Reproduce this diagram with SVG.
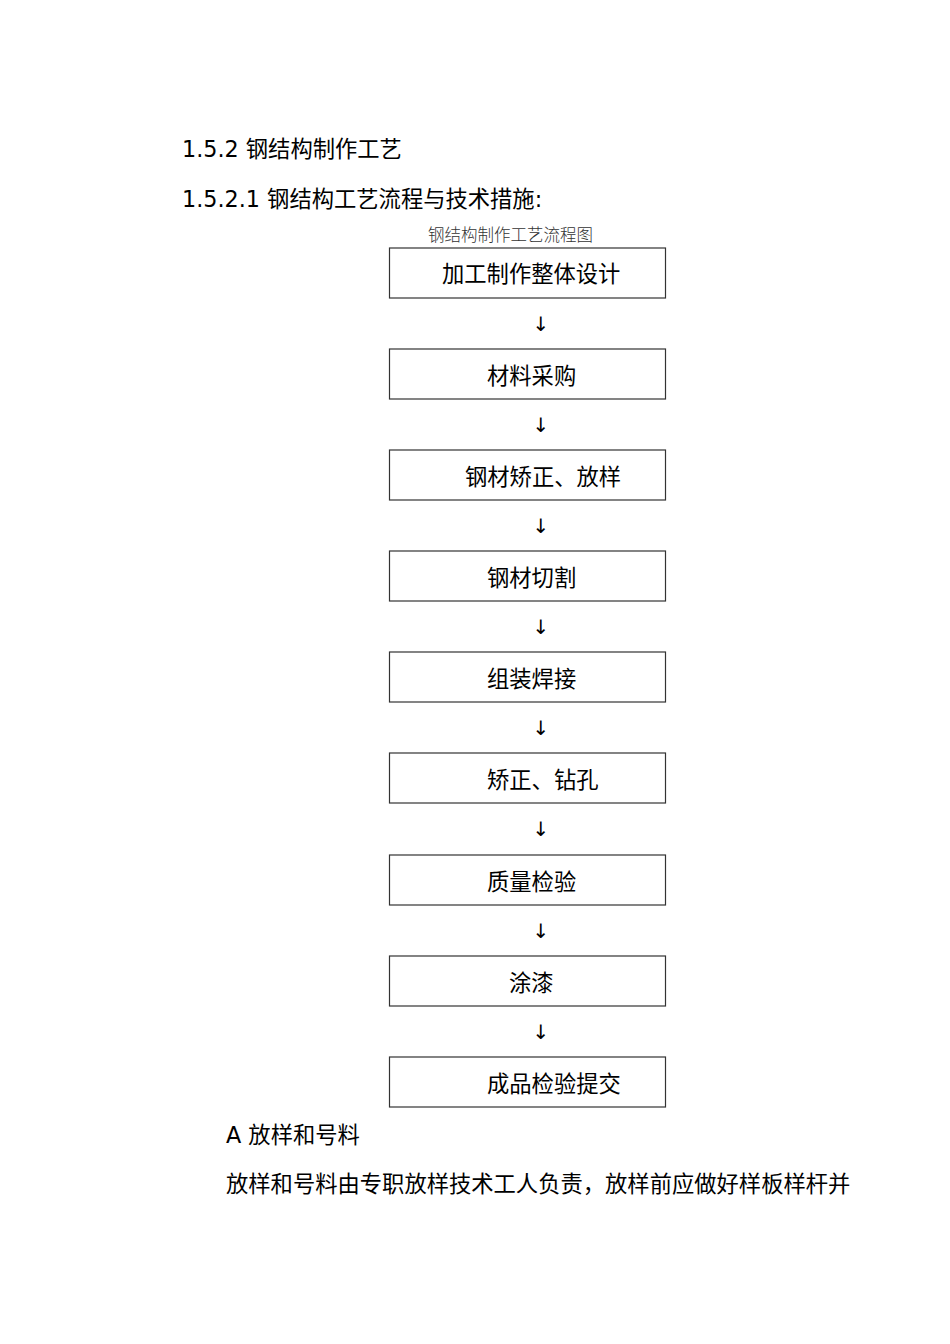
<svg xmlns="http://www.w3.org/2000/svg" width="950" height="1344" viewBox="0 0 950 1344">
<style>
.t{font-family:"DejaVu Sans","Noto Sans CJK SC",sans-serif;font-size:22.3px;fill:#000}
.cap{font-family:"Noto Sans CJK SC",sans-serif;font-size:16.5px;fill:#333;font-weight:300}
.box{fill:#fff;stroke:#333;stroke-width:1.2}
.arr{font-family:"DejaVu Sans",sans-serif;font-size:20px;fill:#000;text-anchor:middle}
</style>
<rect width="950" height="1344" fill="#fff"/>
<text class="t" x="182" y="157">1.5.2 钢结构制作工艺</text>
<text class="t" x="182" y="207">1.5.2.1 钢结构工艺流程与技术措施:</text>
<text class="cap" x="428" y="241">钢结构制作工艺流程图</text>
<g id="n1"><rect class="box" x="389.5" y="248" width="276" height="50"/><text class="t" x="442" y="282">加工制作整体设计</text></g>
<g id="n2"><rect class="box" x="389.5" y="349" width="276" height="50"/><text class="t" x="487" y="384">材料采购</text></g>
<g id="n3"><rect class="box" x="389.5" y="450" width="276" height="50"/><text class="t" x="465" y="485">钢材矫正、放样</text></g>
<g id="n4"><rect class="box" x="389.5" y="551" width="276" height="50"/><text class="t" x="487" y="586">钢材切割</text></g>
<g id="n5"><rect class="box" x="389.5" y="652" width="276" height="50"/><text class="t" x="487" y="687">组装焊接</text></g>
<g id="n6"><rect class="box" x="389.5" y="753" width="276" height="50"/><text class="t" x="487" y="788">矫正、钻孔</text></g>
<g id="n7"><rect class="box" x="389.5" y="855" width="276" height="50"/><text class="t" x="487" y="890">质量检验</text></g>
<g id="n8"><rect class="box" x="389.5" y="956" width="276" height="50"/><text class="t" x="509" y="991">涂漆</text></g>
<g id="n9"><rect class="box" x="389.5" y="1057" width="276" height="50"/><text class="t" x="487" y="1092">成品检验提交</text></g>
<g id="connectors">
<text class="arr" x="541" y="331">↓</text>
<text class="arr" x="541" y="432">↓</text>
<text class="arr" x="541" y="533">↓</text>
<text class="arr" x="541" y="634">↓</text>
<text class="arr" x="541" y="735">↓</text>
<text class="arr" x="541" y="836">↓</text>
<text class="arr" x="541" y="938">↓</text>
<text class="arr" x="541" y="1039">↓</text>
</g>
<text class="t" x="226" y="1143">A 放样和号料</text>
<text class="t" x="226" y="1192">放样和号料由专职放样技术工人负责，放样前应做好样板样杆并</text>
</svg>
